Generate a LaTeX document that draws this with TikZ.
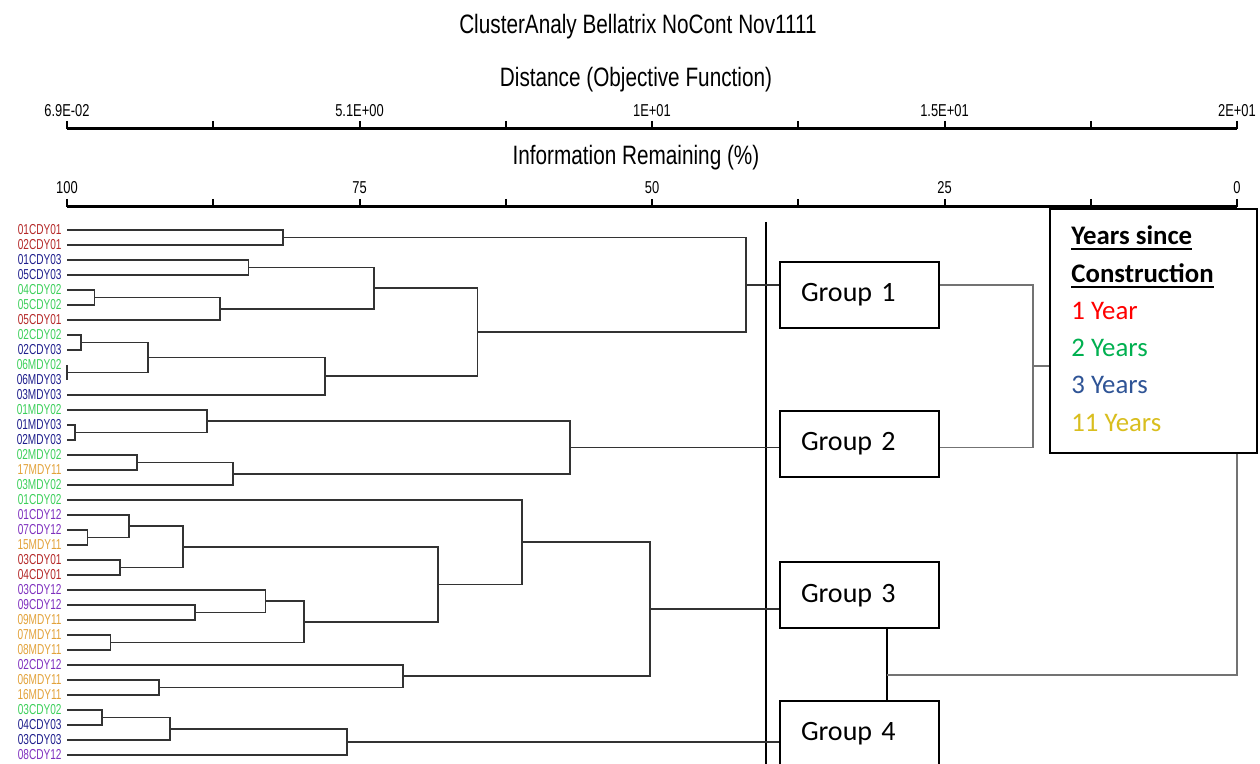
\documentclass[tikz,border=0pt]{standalone}
\usepackage{fontspec}
\usetikzlibrary{calc}
\newfontfamily\dendfont[FakeStretch=0.78]{Liberation Sans}
\newfontfamily\leaffont[FakeStretch=0.7]{Liberation Sans}
\newfontfamily\tickfont[FakeStretch=0.75]{Liberation Sans}
\newfontfamily\boxfont{Carlito}
\definecolor{yrOne}{HTML}{B42828}
\definecolor{yrTwo}{HTML}{3CCF5A}
\definecolor{yrThree}{HTML}{1E1E8C}
\definecolor{yrEleven}{HTML}{E2A23A}
\definecolor{yrTwelve}{HTML}{7E30BE}
\definecolor{legOne}{HTML}{FF0000}
\definecolor{legTwo}{HTML}{00B050}
\definecolor{legThree}{HTML}{2F5496}
\definecolor{legEleven}{HTML}{D9BE1E}
\newcommand{\hdul}[1]{\setbox0=\hbox{#1}\rlap{\rule[-2.5pt]{\wd0}{1pt}}\box0}
% one dendrogram join: name, upper child, lower child, x of the join
\newcommand{\merge}[4]{%
  \path let \p1 = ($(#2)!.5!(#3)$), \p2 = (#4,0) in coordinate (#1) at (\x2,\y1);
  \draw[branch] (#2) -| (#1) |- (#3);
}
\tikzset{
  branch/.style={draw=black!80, line width=0.85pt},
  link/.style={draw=black!55, line width=0.8pt},
  axisline/.style={line width=1.5pt},
  tickmark/.style={line width=1pt},
  leaf/.style={anchor=east, inner xsep=2.5pt, inner ysep=0pt,
    font=\leaffont\fontsize{7.2}{7.5}\selectfont},
  ticklab/.style={inner sep=0pt, font=\tickfont\fontsize{8.6}{9}\selectfont},
  axtitle/.style={inner sep=0pt, font=\dendfont\fontsize{13.3}{14}\selectfont},
  groupbox/.style={draw, line width=1pt, fill=white, minimum height=33pt,
    text width=58.5pt, inner xsep=10.5pt, align=left,
    font=\boxfont\fontsize{14}{16}\selectfont},
  legtext/.style={anchor=base west, inner sep=0pt,
    font=\boxfont\fontsize{13.4}{16}\selectfont},
}
\begin{document}
\begin{tikzpicture}[x=0.5pt,y=-0.5pt]
  \useasboundingbox (0,0) rectangle (1260,764);

  % titles and the two scales
  \node[axtitle] (title) at (638,27) {ClusterAnaly Bellatrix NoCont Nov1111};
  \node[axtitle] (distT) at (636,80) {Distance (Objective Function)};
  \node[axtitle] (infoT) at (636,158) {Information Remaining (\%)};
  \draw[axisline] (67,129) -- (1237,129);
  \draw[axisline] (67,207) -- (1237,207);
  \foreach \k in {0,...,8} {
    \draw[tickmark] ({67+146.25*\k},121) -- ++(0,8);
    \draw[tickmark] ({67+146.25*\k},199) -- ++(0,8);
  }
  \foreach \k/\d/\p in {0/6.9E-02/100, 2/5.1E+00/75, 4/1E+01/50, 6/1.5E+01/25, 8/2E+01/0} {
    \node[ticklab] (dist\k) at ({67+146.25*\k},111) {\d};
    \node[ticklab] (info\k) at ({67+146.25*\k},188) {\p};
  }

  % leaves
  \foreach \lab/\yr [count=\i] in {01CDY01/One, 02CDY01/One, 01CDY03/Three,
      05CDY03/Three, 04CDY02/Two, 05CDY02/Two, 05CDY01/One, 02CDY02/Two,
      02CDY03/Three, 06MDY02/Two, 06MDY03/Three, 03MDY03/Three, 01MDY02/Two,
      01MDY03/Three, 02MDY03/Three, 02MDY02/Two, 17MDY11/Eleven, 03MDY02/Two,
      01CDY02/Two, 01CDY12/Twelve, 07CDY12/Twelve, 15MDY11/Eleven, 03CDY01/One,
      04CDY01/One, 03CDY12/Twelve, 09CDY12/Twelve, 09MDY11/Eleven,
      07MDY11/Eleven, 08MDY11/Eleven, 02CDY12/Twelve, 06MDY11/Eleven,
      16MDY11/Eleven, 03CDY02/Two, 04CDY03/Three, 03CDY03/Three, 08CDY12/Twelve}
    \node[leaf, text=yr\yr] (l\i) at (67,{215+15*\i}) {\lab};

  % group 1
  \merge{m1}{l1.east}{l2.east}{283}
  \merge{m3}{l3.east}{l4.east}{248.5}
  \merge{m5}{l5.east}{l6.east}{94.5}
  \merge{m5b}{m5}{l7.east}{220}
  \merge{m3b}{m3}{m5b}{374}
  \merge{m8}{l8.east}{l9.east}{80.7}
  \merge{m10}{l10.east}{l11.east}{67}
  \merge{m8b}{m8}{m10}{148}
  \merge{m8c}{m8b}{l12.east}{325}
  \merge{m3c}{m3b}{m8c}{477.5}
  \merge{grpA}{m1}{m3c}{746}
  % group 2
  \merge{m14}{l14.east}{l15.east}{74.7}
  \merge{m13}{l13.east}{m14}{207}
  \merge{m16}{l16.east}{l17.east}{137}
  \merge{m16b}{m16}{l18.east}{233}
  \merge{grpB}{m13}{m16b}{570}
  % group 3
  \merge{m21}{l21.east}{l22.east}{87.6}
  \merge{m20}{l20.east}{m21}{129}
  \merge{m23}{l23.east}{l24.east}{120}
  \merge{m20b}{m20}{m23}{182.8}
  \merge{m26}{l26.east}{l27.east}{194.7}
  \merge{m25}{l25.east}{m26}{265.5}
  \merge{m28}{l28.east}{l29.east}{110.6}
  \merge{m25b}{m25}{m28}{303.7}
  \merge{m20c}{m20b}{m25b}{438}
  \merge{m19}{l19.east}{m20c}{522}
  \merge{m31}{l31.east}{l32.east}{158.7}
  \merge{m30}{l30.east}{m31}{403}
  \merge{grpC}{m19}{m30}{650}
  % group 4
  \merge{m33}{l33.east}{l34.east}{102}
  \merge{m33b}{m33}{l35.east}{170}
  \merge{grpD}{m33b}{l36.east}{347}

  % cut line
  \coordinate (cutTop) at (766,222);
  \coordinate (cutBot) at (766,764);
  \draw[line width=1pt] (cutTop) -- (cutBot);

  % group boxes
  \node[groupbox] (g1) at (859.5,295) {Group 1};
  \node[groupbox] (g2) at (859.5,444) {Group 2};
  \node[groupbox] (g3) at (859.5,595.5) {Group 3};
  \node[groupbox] (g4) at (859.5,734) {Group 4};
  \draw[branch] (grpA) -- (grpA -| g1.west);
  \draw[branch] (grpB) -- (grpB -| g2.west);
  \draw[branch] (grpC) -- (grpC -| g3.west);
  \draw[branch] (grpD) -- (grpD -| g4.west);

  % joins between the groups
  \coordinate (r1) at (g1.east |- grpA);
  \coordinate (r2) at (g2.east |- grpB);
  \coordinate (j12) at (1033,366);
  \draw[link] (r1) -| (j12) |- (r2);
  \coordinate (j34) at (887,675);
  \draw[line width=0.6pt] (j34 |- g3.south) -- (j34 |- g4.north);
  \coordinate (root) at (1237,520);
  \draw[link] (j12) -| (root) |- (j34);

  % legend
  \node[draw, line width=1pt, fill=white, minimum width=103.5pt,
    minimum height=122pt, inner sep=0pt] (legend) at (1153.5,331) {};
  \node[legtext, font=\boxfont\bfseries\fontsize{13.4}{16}\selectfont] (leg0) at (1071,245) {\hdul{Years since}};
  \node[legtext, font=\boxfont\bfseries\fontsize{13.4}{16}\selectfont] (leg00) at (1071,283) {\hdul{Construction}};
  \foreach \t/\c/\yy in {1 Year/legOne/320, 2 Years/legTwo/357, 3 Years/legThree/394, 11 Years/legEleven/432}
    \node[legtext, text=\c] (leg\c) at (1071,\yy) {\t};
\end{tikzpicture}
\end{document}
